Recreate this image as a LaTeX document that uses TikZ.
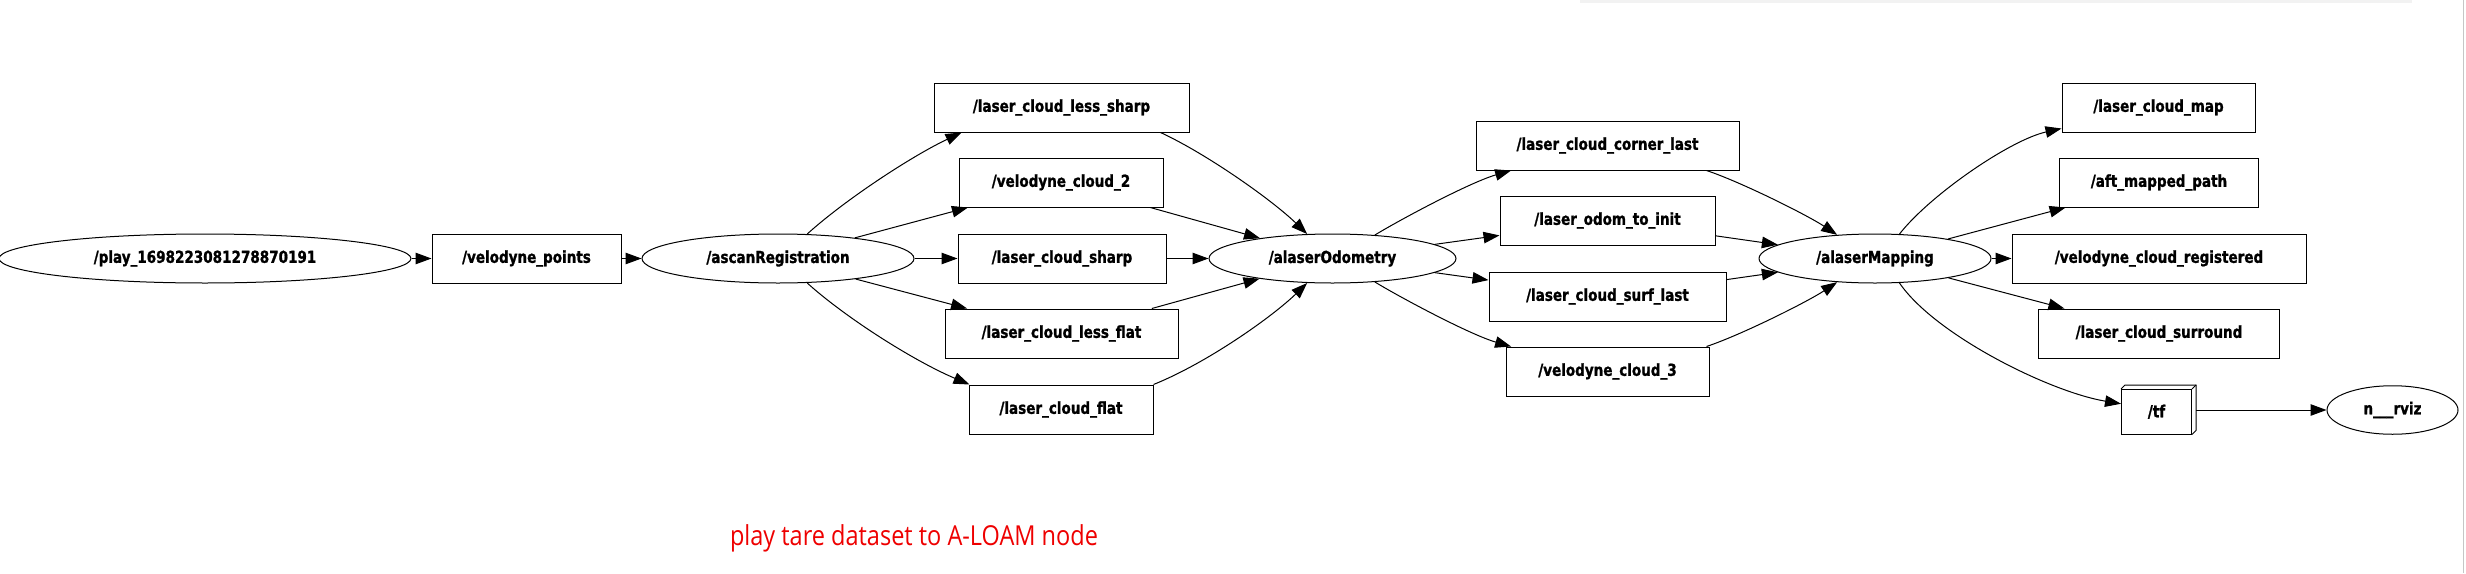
\documentclass[tikz,border=0pt]{standalone}
\usepackage{fontspec}
\setmainfont{DejaVu Sans}
\newfontfamily\gvfont{DejaVu Sans}[FakeStretch=0.82, BoldFeatures={FakeBold=1.2}]
\newfontfamily\capfont{Open Sans}[FakeStretch=0.855]
\usetikzlibrary{arrows.meta,shapes.geometric}
\definecolor{capred}{RGB}{238,0,0}
\tikzset{
  gv/.style={draw, line width=1pt, inner sep=0pt, font=\gvfont\bfseries\fontsize{16.5}{19}\selectfont},
  topic/.style={gv, rectangle, minimum height=49pt},
  gnode/.style={gv, ellipse, minimum height=49pt},
  edge/.style={line width=1pt, -{Triangle[length=16pt,width=11.5pt]}},
}
\begin{document}
\begin{tikzpicture}[x=1pt,y=-1pt]
\useasboundingbox (0,0) rectangle (2466,573);
% window border artefacts
\draw[gray!10, line width=3pt] (1580,1) -- (2412,1);
\draw[gray!45, line width=1pt] (2463,0) -- (2463,573);

% nodes
\node[gnode, minimum width=412pt] (play) at (205,258.5) {/play\_1698223081278870191};
\node[topic, minimum width=189pt] (vp) at (526.5,258.5) {/velodyne\_points};
\node[gnode, minimum width=272pt] (ascan) at (778,258.5) {/ascanRegistration};

\node[topic, minimum width=255pt] (lcls) at (1061.5,107.5) {/laser\_cloud\_less\_sharp};
\node[topic, minimum width=204pt] (vc2) at (1061,182.5) {/velodyne\_cloud\_2};
\node[topic, minimum width=208pt] (lcs) at (1062,258.5) {/laser\_cloud\_sharp};
\node[topic, minimum width=233pt] (lclf) at (1061.5,333.5) {/laser\_cloud\_less\_flat};
\node[topic, minimum width=184pt] (lcf) at (1061,409.5) {/laser\_cloud\_flat};

\node[gnode, minimum width=247pt] (odom) at (1332.5,258.5) {/alaserOdometry};

\node[topic, minimum width=263pt] (corner) at (1607.5,145.5) {/laser\_cloud\_corner\_last};
\node[topic, minimum width=215pt] (init) at (1607.5,220.5) {/laser\_odom\_to\_init};
\node[topic, minimum width=237pt] (surf) at (1607.5,296.5) {/laser\_cloud\_surf\_last};
\node[topic, minimum width=203pt] (vc3) at (1607.5,371.5) {/velodyne\_cloud\_3};

\node[gnode, minimum width=232pt] (mapping) at (1875,258.5) {/alaserMapping};

\node[topic, minimum width=193pt] (map) at (2158.5,107.5) {/laser\_cloud\_map};
\node[topic, minimum width=198.5pt] (aft) at (2159,182.5) {/aft\_mapped\_path};
\node[topic, minimum width=294pt] (vcr) at (2159,258.5) {/velodyne\_cloud\_registered};
\node[topic, minimum width=240.5pt] (surround) at (2159,333.5) {/laser\_cloud\_surround};

\node[topic, minimum width=70pt, minimum height=44.5pt] (tf) at (2156.5,411.75) {/tf};
\draw[line width=1pt, line join=miter]
  (tf.north west) -- ([xshift=4pt,yshift=4pt]tf.north west)
  -- ([xshift=4pt,yshift=4pt]tf.north east)
  -- ([xshift=4pt,yshift=4pt]tf.south east) -- (tf.south east);
\draw[line width=1pt] (tf.north east) -- ([xshift=4pt,yshift=4pt]tf.north east);

\node[gnode, minimum width=131pt, minimum height=48.5pt] (rviz) at (2392.5,410) {n\_\_\_rviz};

% caption
\node[font=\capfont\fontsize{27.5}{32}\selectfont, text=capred, anchor=base, inner sep=0pt] (cap) at (914,545) {play tare dataset to A-LOAM node};

% straight edges
\draw[edge] (play) -- (vp);
\draw[edge] (vp) -- (ascan);
\draw[edge] (ascan) -- (vc2);
\draw[edge] (ascan) -- (lcs);
\draw[edge] (ascan) -- (lclf);
\draw[edge] (vc2) -- (odom);
\draw[edge] (lcs) -- (odom);
\draw[edge] (lclf) -- (odom);
\draw[edge] (odom) -- (init);
\draw[edge] (odom) -- (surf);
\draw[edge] (init) -- (mapping);
\draw[edge] (surf) -- (mapping);
\draw[edge] (mapping) -- (aft);
\draw[edge] (mapping) -- (vcr);
\draw[edge] (mapping) -- (surround);
\draw[edge] ([xshift=4pt,yshift=1.75pt]tf.east) -- (rviz);

% curved edges
\draw[edge] (ascan.40.6) .. controls (846,199) and (912,156) .. ([xshift=28pt]lcls.south west);
\draw[edge] (ascan.-40.6) .. controls (846,318) and (914,361) .. ([xshift=1pt]lcf.north west);
\draw[edge] ([xshift=-29pt]lcls.south east) .. controls (1207,154) and (1272,200) .. (odom.136.7);
\draw[edge] (lcf.north east) .. controls (1207,363) and (1272,317) .. (odom.-136.7);
\draw[edge] (odom.29.7) .. controls (1403,218) and (1471,182) .. ([xshift=35.6pt]corner.south west);
\draw[edge] (odom.-29.7) .. controls (1403,299) and (1471,335) .. ([xshift=5.6pt]vc3.north west);
\draw[edge] ([xshift=-33pt]corner.south east) .. controls (1741,182) and (1807,215) .. (mapping.148.3);
\draw[edge] ([xshift=-3pt]vc3.north east) .. controls (1741,335) and (1807,302) .. (mapping.-148.3);
\draw[edge] (mapping.45) .. controls (1930,195) and (2010,140) .. ([yshift=4pt]map.south west);
\draw[edge] (mapping.-45) .. controls (1935,335) and (2050,392) .. ([yshift=8pt]tf.west);
\end{tikzpicture}
\end{document}
